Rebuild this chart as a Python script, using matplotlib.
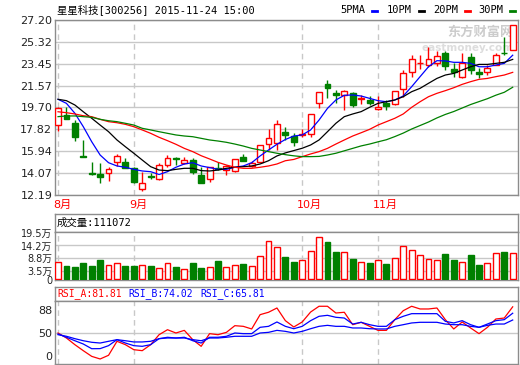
import matplotlib
matplotlib.use("Agg")
import matplotlib.pyplot as plt
import matplotlib.transforms as mtransforms
from matplotlib.lines import Line2D
import numpy as np

plt.rcParams['font.family'] = ['DejaVu Sans', 'Noto Sans CJK SC']
MONO = ['DejaVu Sans Mono', 'Noto Sans CJK SC']

# ---- data ----
title = "星星科技[300256] 2015-11-24 15:00"
month_pos = [0, 9, 29, 38]
month_labels = ["8月", "9月", "10月", "11月"]

opens = [18.19, 19.05, 18.39, 15.52, 14.05, 13.99, 14.10, 14.99, 15.05, 14.53,
         12.68, 13.80, 13.56, 14.79, 15.33, 14.91, 15.19, 13.90, 13.53, 14.50,
         14.33, 14.25, 15.48, 14.65, 15.05, 16.54, 16.68, 17.57, 17.29, 17.30,
         17.42, 20.05, 21.70, 20.96, 20.77, 20.91, 20.45, 20.34, 19.54, 20.11,
         19.97, 21.26, 22.77, 23.50, 23.34, 23.48, 24.34, 22.97, 22.28, 24.00,
         22.77, 22.71, 23.34, 24.40, 24.63]
highs = [19.70, 19.76, 18.60, 16.91, 15.05, 14.91, 14.62, 15.71, 15.34, 14.62,
         14.14, 14.05, 14.91, 15.62, 15.45, 15.45, 15.40, 14.56, 14.60, 15.05,
         14.75, 15.25, 15.71, 15.10, 16.48, 17.82, 18.62, 18.00, 17.48, 17.85,
         19.14, 21.00, 22.05, 21.20, 21.20, 21.05, 20.80, 20.70, 20.68, 20.30,
         21.14, 22.91, 24.20, 24.20, 24.90, 24.50, 24.50, 23.48, 24.34, 24.40,
         23.06, 23.30, 24.40, 25.77, 26.77]
lows = [17.70, 18.70, 16.85, 15.45, 13.90, 13.19, 13.43, 14.68, 14.50, 13.25,
        12.56, 13.60, 13.47, 14.62, 14.79, 14.85, 14.00, 13.20, 13.30, 14.35,
        13.90, 14.20, 15.10, 14.55, 15.00, 16.05, 16.05, 16.90, 16.39, 17.20,
        17.20, 19.63, 20.48, 20.05, 19.48, 19.70, 20.00, 19.90, 19.50, 19.48,
        19.90, 20.60, 22.34, 22.96, 23.20, 23.25, 22.91, 22.34, 22.20, 22.60,
        22.20, 22.50, 23.30, 24.20, 24.63]
closes = [19.63, 18.71, 17.19, 15.48, 13.95, 13.76, 14.39, 15.56, 14.53, 13.28,
          13.19, 13.75, 14.74, 15.34, 15.27, 15.19, 14.20, 13.25, 14.56, 14.42,
          14.68, 15.25, 15.13, 14.95, 16.48, 17.05, 18.25, 17.36, 16.76, 17.40,
          19.14, 21.00, 21.34, 20.77, 21.14, 19.91, 20.50, 20.11, 19.71, 19.82,
          21.14, 22.63, 23.83, 23.54, 23.83, 24.14, 23.28, 22.77, 23.54, 22.90,
          22.54, 23.11, 24.20, 24.34, 26.77]

ma5 = [20.40, 20.05, 19.20, 18.05, 16.76, 15.62, 14.96, 14.68, 14.57, 14.39,
       14.25, 14.19, 13.95, 14.19, 14.57, 14.85, 14.96, 14.68, 14.54, 14.39,
       14.39, 14.57, 14.68, 14.96, 15.54, 16.05, 16.54, 16.95, 17.25, 17.34,
       17.77, 18.62, 19.62, 20.34, 20.74, 20.77, 20.68, 20.48, 20.28, 20.19,
       20.34, 20.68, 21.48, 22.34, 23.19, 23.71, 23.69, 23.57, 23.57, 23.48,
       23.19, 23.19, 23.34, 23.48, 24.18]
ma10 = [20.40, 20.28, 19.91, 19.33, 18.77, 18.19, 17.62, 16.91, 16.33, 15.77,
        15.19, 14.62, 14.33, 14.28, 14.39, 14.48, 14.48, 14.28, 14.25, 14.33,
        14.48, 14.57, 14.62, 14.68, 14.85, 15.13, 15.54, 15.80, 16.00, 16.20,
        16.48, 16.91, 17.62, 18.34, 18.91, 19.14, 19.34, 19.71, 20.05, 20.19,
        20.34, 20.62, 21.05, 21.34, 21.77, 22.19, 22.48, 22.62, 22.91, 23.19,
        23.39, 23.39, 23.48, 23.57, 23.82]
ma20 = [19.33, 19.25, 19.14, 18.99, 18.91, 18.68, 18.48, 18.39, 18.25, 18.05,
        17.77, 17.48, 17.14, 16.85, 16.54, 16.19, 15.91, 15.56, 15.28, 14.99,
        14.76, 14.57, 14.48, 14.48, 14.57, 14.68, 14.85, 15.13, 15.24, 15.48,
        15.71, 15.91, 16.19, 16.56, 16.91, 17.25, 17.53, 17.82, 18.19, 18.48,
        18.77, 19.14, 19.71, 20.19, 20.62, 20.91, 21.14, 21.39, 21.68, 21.91,
        22.11, 22.19, 22.34, 22.48, 22.71]
ma30 = [18.91, 18.97, 18.97, 18.91, 18.85, 18.68, 18.56, 18.48, 18.34, 18.19,
        17.91, 17.77, 17.62, 17.48, 17.34, 17.25, 17.19, 17.05, 16.91, 16.82,
        16.71, 16.56, 16.39, 16.19, 16.05, 15.91, 15.77, 15.65, 15.55, 15.48,
        15.48, 15.50, 15.62, 15.77, 15.98, 16.19, 16.40, 16.56, 16.75, 16.93,
        17.20, 17.50, 17.85, 18.15, 18.45, 18.80, 19.10, 19.35, 19.65, 19.95,
        20.20, 20.45, 20.75, 21.00, 21.43]

# volume in units of 万 (10k hands)
vol_wan = [7.06, 5.50, 4.94, 6.63, 5.50, 8.05, 5.79, 6.63, 5.50, 5.50,
           5.79, 5.50, 4.52, 6.63, 5.08, 4.10, 6.78, 4.66, 4.94, 7.63,
           4.94, 5.79, 6.35, 5.36, 9.70, 16.10, 13.40, 9.32, 7.34, 8.05,
           11.86, 17.66, 15.80, 11.57, 11.43, 8.47, 7.20, 6.92, 8.05, 6.35,
           8.90, 13.98, 12.29, 10.03, 8.47, 8.05, 10.73, 8.05, 7.20, 10.17,
           5.93, 6.78, 11.00, 11.50, 11.11]
last_volume = 111072

rsi_a = [50.0, 43.9, 35.8, 28.5, 21.6, 18.4, 22.9, 39.9, 35.8, 29.7,
         28.5, 35.8, 47.9, 54.0, 50.0, 53.2, 41.9, 33.8, 49.2, 47.9,
         50.8, 58.9, 58.1, 54.9, 72.3, 75.2, 80.4, 65.0, 57.3, 63.4,
         75.5, 82.5, 82.5, 74.3, 75.2, 60.1, 63.0, 58.1, 53.2, 53.2,
         66.2, 77.1, 82.5, 79.2, 79.2, 80.4, 66.2, 54.9, 63.4, 56.1,
         49.2, 56.9, 67.0, 68.2, 81.81]
rsi_b = [48.8, 44.8, 40.6, 36.6, 30.9, 31.0, 34.6, 41.9, 37.8, 34.6,
         33.8, 35.8, 43.1, 44.8, 43.9, 44.8, 40.6, 37.8, 44.8, 44.8,
         46.0, 50.0, 49.2, 49.2, 56.9, 58.1, 63.4, 58.1, 55.2, 58.1,
         65.0, 70.3, 71.5, 69.1, 68.2, 60.9, 63.0, 60.1, 58.1, 58.1,
         66.2, 70.3, 73.5, 73.5, 73.5, 73.5, 64.2, 62.2, 65.0, 60.1,
         56.9, 60.9, 65.0, 66.2, 74.02]
rsi_c = [48.0, 46.0, 43.1, 40.6, 38.7, 37.8, 39.9, 41.9, 40.6, 39.1,
         39.1, 39.9, 43.1, 43.9, 43.9, 43.9, 41.9, 40.6, 43.9, 43.9,
         44.8, 46.0, 46.0, 46.0, 50.0, 50.8, 53.2, 52.0, 50.0, 52.0,
         55.2, 58.1, 59.3, 58.1, 58.1, 56.1, 56.1, 55.2, 54.9, 54.9,
         58.1, 60.1, 62.2, 63.0, 63.0, 63.0, 60.9, 60.1, 60.1, 58.1,
         56.9, 59.3, 60.9, 60.9, 65.81]

price_ticks = [12.19, 14.07, 15.94, 17.82, 19.70, 21.57, 23.45, 25.32, 27.20]
price_labels = ["12.19", "14.07", "15.94", "17.82", "19.70", "21.57", "23.45", "25.32", "27.20"]
vol_ticks = [0, 3.5, 8.8, 14.2, 19.5]
vol_labels = ["0", "3.5万", "8.8万", "14.2万", "19.5万"]
rsi_ticks = [22, 50, 78]
rsi_labels = ["0", "50", "88"]

legend_names = ["5PMA", "10PM", "20PM", "30PM"]
RED, GREEN, BLUE = "#ff0000", "#008000", "#0000ff"
ma_colors = [BLUE, "black", RED, GREEN]
GRID = "#c8c8c8"
BORDER = "#8c8c8c"

# ---- layout in pixels ----
W, H = 520, 365
fig = plt.figure(figsize=(W / 100, H / 100), dpi=100)


def panel(x0, y0, x1, y1, size=8):
    ax = fig.add_axes([x0 / W, 1 - y1 / H, (x1 - x0) / W, (y1 - y0) / H])
    for s in ax.spines.values():
        s.set_color(BORDER)
        s.set_linewidth(1)
    ax.tick_params(length=0, labelsize=size, colors="#222222", pad=2)
    return ax


x = np.arange(len(closes))
o, h, l, c = map(np.array, (opens, highs, lows, closes))
up = c >= o
edge = np.where(up, RED, GREEN)
face = np.where(up, "white", GREEN)
xlim = (-0.36, len(x) - 0.37)

# ---- price panel ----
ax = panel(55, 20, 518, 195)
ax.set_xlim(*xlim)
ax.set_ylim(price_ticks[0], price_ticks[-1])
ax.set_yticks(price_ticks, price_labels)
ax.set_xticks(month_pos)
ax.set_xticklabels([])
ax.grid(axis="y", color=GRID, lw=1)
ax.grid(axis="x", color=GRID, lw=1, ls=(0, (4, 3)))
ax.set_axisbelow(True)

# watermark
ax.text(0.99, 0.93, "东方财富网", transform=ax.transAxes, fontsize=9.5, fontweight="bold",
        color="#cccccc", ha="right", va="center", zorder=1)
ax.text(0.99, 0.84, "eastmoney.com", transform=ax.transAxes, fontsize=7.5, fontweight="bold",
        color="#dddddd", ha="right", va="center", zorder=1)

ax.vlines(x, l, h, colors=edge, lw=1, zorder=2)
ax.bar(x, np.abs(c - o), bottom=np.minimum(o, c), width=0.7, color=face,
       edgecolor=edge, lw=1, zorder=3)
for ma, col in zip([ma5, ma10, ma20, ma30], ma_colors):
    ax.plot(x, ma, color=col, lw=0.9, zorder=4)

tr = mtransforms.blended_transform_factory(ax.transData, ax.transAxes) + \
    mtransforms.ScaledTranslation(-5 / 100, -10 / 100, fig.dpi_scale_trans)
for p, lab in zip(month_pos, month_labels):
    ax.text(p, 0, lab, transform=tr, color=RED, fontsize=8, ha="left", va="center")

# title and legend
fig.text(57 / W, 1 - 10 / H, title, fontsize=7.5, family=MONO, va="center", ha="left")
leg_x = [340, 387, 433, 478]
for name, col, lx in zip(legend_names, ma_colors, leg_x):
    fig.text(lx / W, 1 - 10 / H, name, fontsize=7.5, family=MONO, va="center", ha="left")
    fig.add_artist(Line2D([(lx + 32) / W, (lx + 37) / W], [1 - 11 / H, 1 - 11 / H],
                          color=col, lw=2, transform=fig.transFigure))

# ---- volume panel ----
hv = panel(55, 214, 518, 232)
hv.set_xticks([])
hv.set_yticks([])
hv.text(2 / 463, 0.5, f"成交量:{last_volume}", transform=hv.transAxes, fontsize=7.5,
        family=MONO, va="center", ha="left")

av = panel(55, 232, 518, 280, size=7)
av.set_xlim(*xlim)
av.set_ylim(-0.42, 19.92)
av.set_yticks(vol_ticks, vol_labels)
av.set_xticks(month_pos)
av.set_xticklabels([])
av.grid(axis="x", color=GRID, lw=1, ls=(0, (4, 3)))
for v in vol_ticks[1:-1]:
    av.axhline(v, color=GRID, lw=1, zorder=0)
av.set_axisbelow(True)
av.bar(x, vol_wan, width=0.7, color=face, edgecolor=edge, lw=1, zorder=3)
# nudge the bottom label down a little, as in the reference
lbl0 = av.get_yticklabels()[0]
lbl0.set_va("top")
lbl0.set_transform(lbl0.get_transform() + mtransforms.ScaledTranslation(0, 3 / 100, fig.dpi_scale_trans))

# ---- RSI panel ----
hr = panel(55, 287, 518, 301)
hr.set_xticks([])
hr.set_yticks([])
for name, vals, col, tx in zip(["RSI_A", "RSI_B", "RSI_C"], [rsi_a, rsi_b, rsi_c],
                               [RED, BLUE, BLUE], [2, 73, 145]):
    hr.text(tx / 463, 0.5, f"{name}:{vals[-1]:.2f}", transform=hr.transAxes,
            fontsize=7, family=MONO, color=col, va="center", ha="left")

ar = panel(55, 301, 518, 364)
ar.set_xlim(*xlim)
ar.set_ylim(12.3, 88.9)
ar.set_yticks(rsi_ticks, rsi_labels)
ar.set_xticks(month_pos)
ar.set_xticklabels([])
ar.grid(axis="x", color=GRID, lw=1, ls=(0, (4, 3)))
ar.axhline(50, color=GRID, lw=1, zorder=0)
ar.set_axisbelow(True)
ar.plot(x, rsi_a, color=RED, lw=0.9)
ar.plot(x, rsi_b, color=BLUE, lw=0.9)
ar.plot(x, rsi_c, color=BLUE, lw=0.9)

fig.savefig("out.png", dpi=100, facecolor="white")
